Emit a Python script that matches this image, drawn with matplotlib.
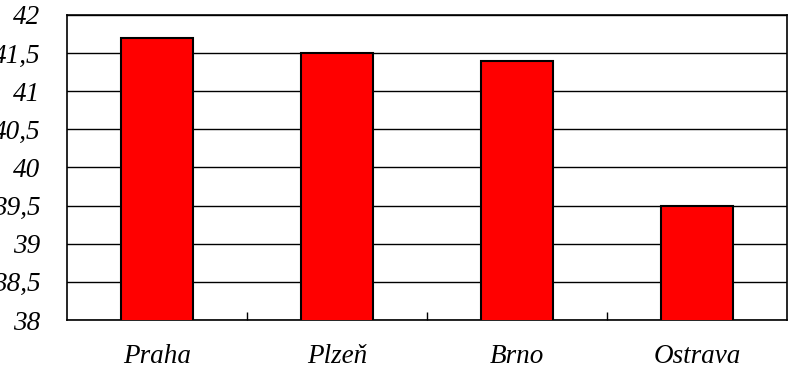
import matplotlib
matplotlib.use("Agg")
import matplotlib.pyplot as plt
from matplotlib.ticker import FuncFormatter, MultipleLocator

# values
cities = ["Praha", "Plzeň", "Brno", "Ostrava"]
values = [41.7, 41.5, 41.4, 39.5]
y_min, y_max, y_step = 38, 42, 0.5

plt.rcParams["font.family"] = ["Liberation Serif", "DejaVu Serif"]
plt.rcParams["font.style"] = "italic"

fig = plt.figure(figsize=(7.92, 3.70), dpi=100)
ax = fig.add_axes([0.0842, 0.1351, 0.9095, 0.8244])

x = list(range(len(cities)))
ax.bar(x, values, width=0.4, color="#ff0000", edgecolor="black", linewidth=1.5, zorder=3)

ax.set_xlim(-0.5, len(cities) - 0.5)
ax.set_ylim(y_min, y_max)
ax.yaxis.set_major_locator(MultipleLocator(y_step))
ax.yaxis.set_major_formatter(FuncFormatter(lambda v, p: ("%g" % v).replace(".", ",")))
ax.grid(axis="y", color="black", linewidth=1.0, zorder=0)

ax.set_xticks(x, cities)
ax.set_xticks([i + 0.5 for i in x[:-1]], minor=True)
ax.tick_params(axis="x", which="major", length=0, pad=17.5, labelsize=19.5)
ax.tick_params(axis="x", which="minor", direction="in", length=6, width=1, color="black")
ax.tick_params(axis="y", length=0, pad=19, labelsize=19.5)

for s in ax.spines.values():
    s.set_color("black")
    s.set_linewidth(1.2)

fig.savefig("out.png", dpi=100)
